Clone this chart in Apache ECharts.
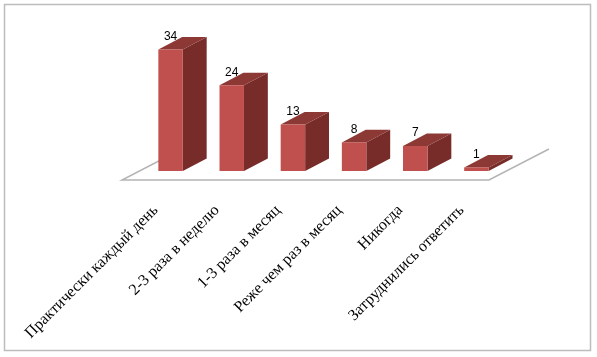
<!DOCTYPE html>
<html><head><meta charset="utf-8">
<script src="https://cdn.jsdelivr.net/npm/echarts/dist/echarts.min.js"></script>
<style>html,body{margin:0;padding:0;background:#fff}#c{width:597px;height:357px}</style>
</head><body><div id="c"></div>
<script>
const categories = ['Практически каждый день', '2-3 раза в неделю', '1-3 раза в месяц', 'Реже чем раз в месяц', 'Никогда', 'Затруднились ответить'];
const values = [34, 24, 13, 8, 7, 1];
const yMin = 0, yMax = 40;

const barData = values.map((v, i) => [i, v]);

function renderBar(params, api) {
  const i = api.value(0), v = api.value(1);
  const base = api.coord([i, 0]);
  const top = api.coord([i, v]);
  const band = api.size([1, 0])[0];
  const w = band * 0.4, dx = band * 0.39, dy = -band * 0.205;
  const x0 = base[0] - w / 2, x1 = base[0] + w / 2, yb = base[1], yt = top[1];
  return {
    type: 'group',
    children: [
      { type: 'polygon', shape: { points: [[x1, yb], [x1 + dx, yb + dy], [x1 + dx, yt + dy], [x1, yt]] }, style: { fill: '#772c2a' } },
      { type: 'polygon', shape: { points: [[x0, yt], [x1, yt], [x1 + dx, yt + dy], [x0 + dx, yt + dy]] }, style: { fill: '#8c3835' } },
      { type: 'rect', shape: { x: x0, y: yt, width: w, height: yb - yt }, style: { fill: '#c0504d' } },
      { type: 'text', x: base[0], y: yt - 13, style: { text: String(v), align: 'center', verticalAlign: 'middle', textAlign: 'center', textVerticalAlign: 'middle', font: '12px "Liberation Sans", Arial, sans-serif', fill: '#000' } }
    ]
  };
}

function renderFloor(params, api) {
  const cs = params.coordSys;
  const y0 = api.coord([0, 0])[1];
  const band = api.size([1, 0])[0];
  const fx = -band * 0.294, fy = band * 0.147;
  const bx = band * 0.686, by = -band * 0.36;
  const L = cs.x, R = cs.x + cs.width;
  return {
    type: 'polyline',
    shape: { points: [[L + bx, y0 + by], [L + fx, y0 + fy], [R + fx, y0 + fy], [R + bx, y0 + by]] },
    style: { stroke: '#b4b4b4', lineWidth: 1.5, fill: null }
  };
}

const chart = echarts.init(document.getElementById('c'), null, { renderer: 'canvas' });
chart.setOption({
  animation: false,
  backgroundColor: '#fff',
  graphic: [{
    type: 'rect', shape: { x: 4.5, y: 4.5, width: 586, height: 346 },
    style: { fill: null, stroke: '#bdbdbd', lineWidth: 1.5 }, silent: true, z: -10
  }],
  grid: { left: 140, right: 90, top: 28, bottom: 186 },
  xAxis: {
    type: 'category', data: categories, boundaryGap: true,
    axisLine: { show: false }, axisTick: { show: false },
    axisLabel: {
      interval: 0, rotate: 45, margin: 22, padding: [0, 21, 0, 0],
      fontFamily: '"Liberation Serif", "Times New Roman", serif', fontSize: 16, color: '#000'
    }
  },
  yAxis: { type: 'value', min: yMin, max: yMax, show: false },
  series: [
    { type: 'custom', renderItem: renderFloor, data: [[0, 0]], z: 1, silent: true },
    { type: 'custom', renderItem: renderBar, data: barData, z: 2, silent: true }
  ]
});
</script>
</body></html>
